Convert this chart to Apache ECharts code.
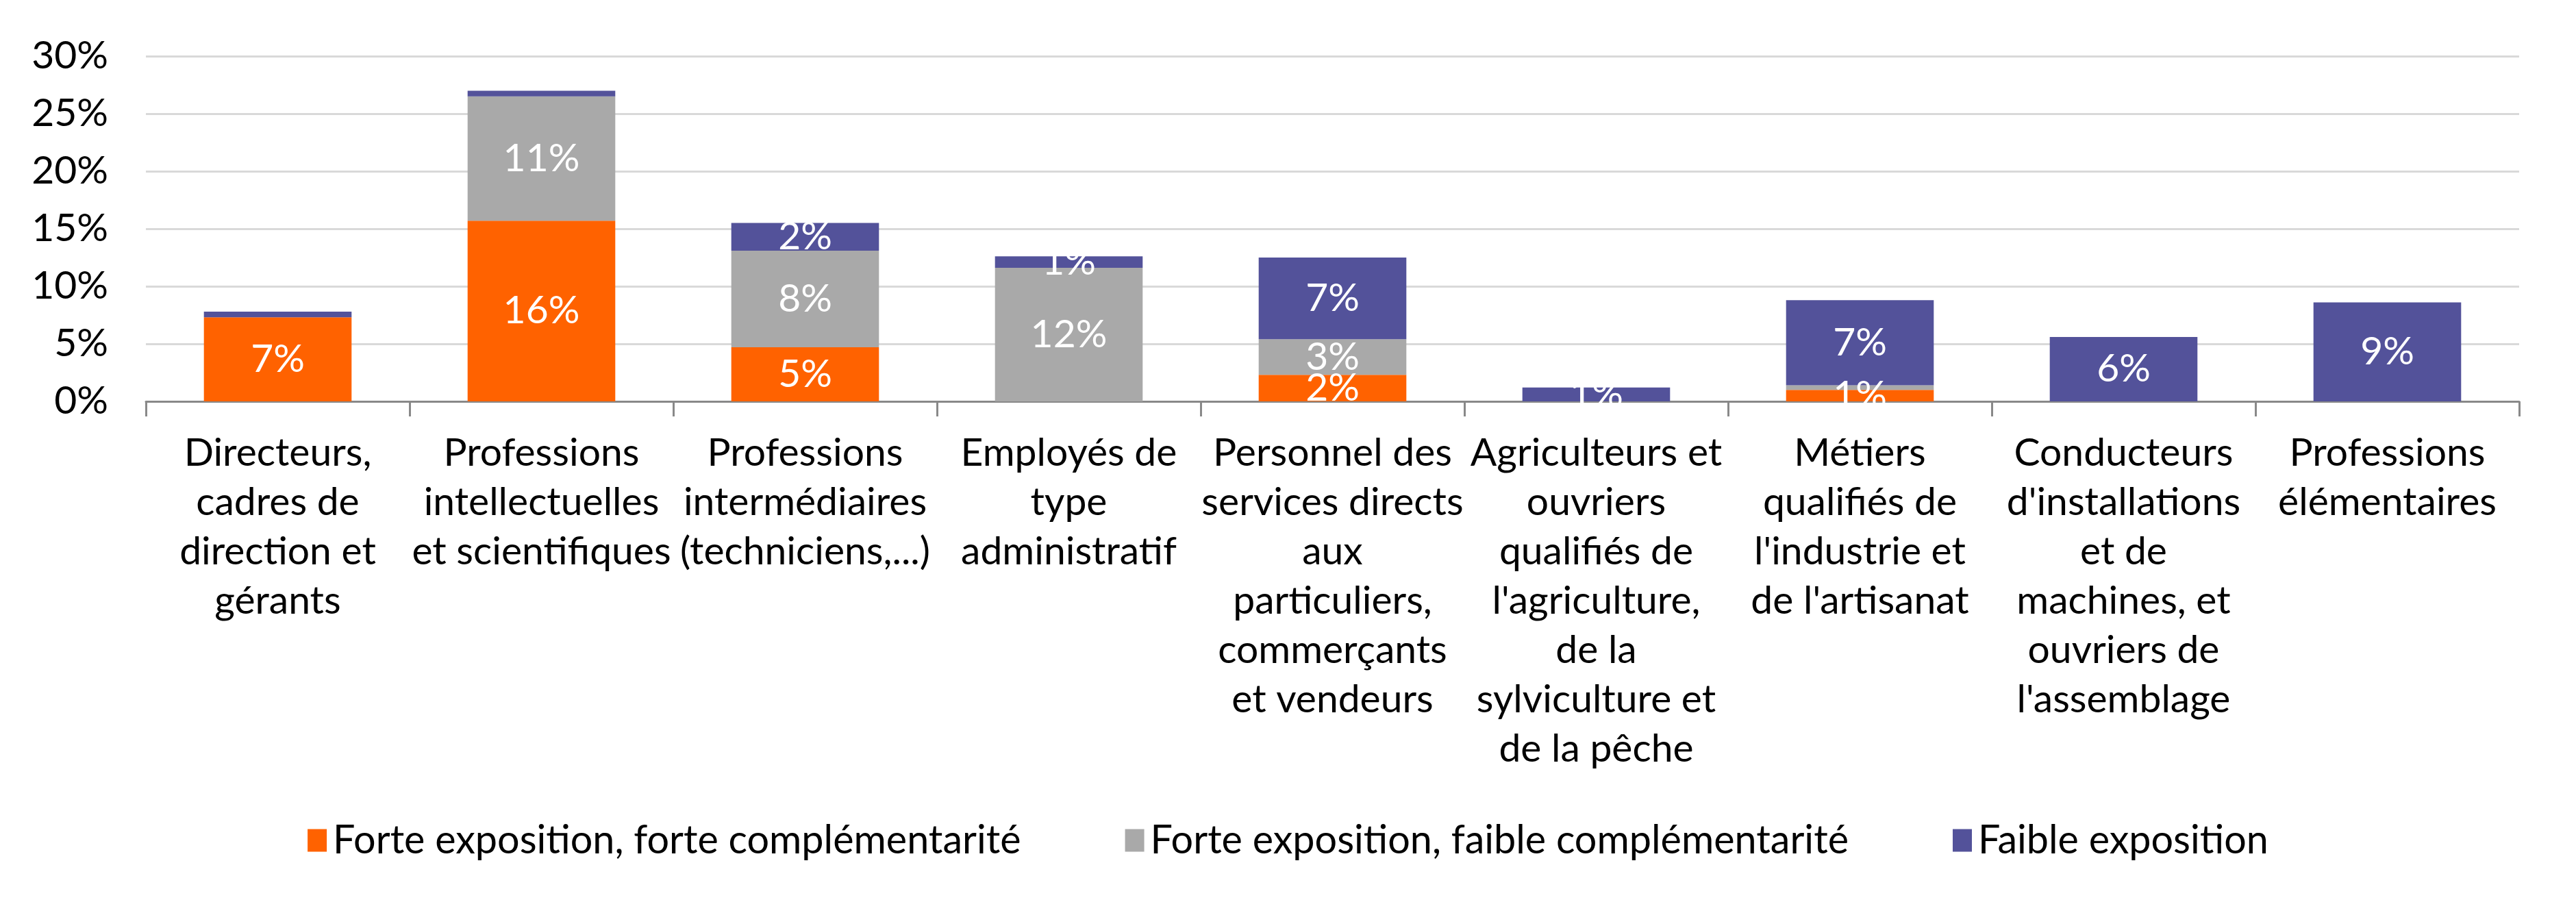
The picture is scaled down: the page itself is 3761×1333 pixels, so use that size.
<!DOCTYPE html>
<html>
<head>
<meta charset="utf-8">
<script src="https://cdn.jsdelivr.net/npm/echarts@6/dist/echarts.min.js"></script>
<style>
html,body{margin:0;padding:0;background:#fff;}
#chart{width:3761px;height:1333px;}
</style>
</head>
<body>
<div id="chart"></div>
<script>
const categories = [
  "Directeurs,\ncadres de\ndirection et\ngérants",
  "Professions\nintellectuelles\net scientifiques",
  "Professions\nintermédiaires\n(techniciens,...)",
  "Employés de\ntype\nadministratif",
  "Personnel des\nservices directs\naux\nparticuliers,\ncommerçants\net vendeurs",
  "Agriculteurs et\nouvriers\nqualifiés de\nl'agriculture,\nde la\nsylviculture et\nde la pêche",
  "Métiers\nqualifiés de\nl'industrie et\nde l'artisanat",
  "Conducteurs\nd'installations\net de\nmachines, et\nouvriers de\nl'assemblage",
  "Professions\nélémentaires"
];
const seriesNames = [
  "Forte exposition, forte complémentarité",
  "Forte exposition, faible complémentarité",
  "Faible exposition"
];
const forteForte = [7.3, 15.7, 4.7, 0, 2.3, 0, 1.0, 0, 0];
const forteFaible = [0, 10.8, 8.4, 11.6, 3.1, 0, 0.4, 0, 0];
const faible = [0.5, 0.5, 2.4, 1.0, 7.1, 1.2, 7.4, 5.6, 8.6];
const yTicks = [0, 5, 10, 15, 20, 25, 30];

const FONT = 'Lato';
const colors = ['#FF6200', '#A9A9A9', '#53529A'];
const dataSets = [forteForte, forteFaible, faible];

const chart = echarts.init(document.getElementById('chart'));
chart.setOption({
  animation: false,
  color: colors,
  textStyle: {fontFamily: FONT},
  grid: {left: 213, right: 83, top: 82, bottom: 747, containLabel: false},
  legend: {
    bottom: 72,
    left: 'center',
    itemWidth: 28,
    itemHeight: 33,
    itemGap: 152,
    icon: 'rect',
    textStyle: {fontFamily: FONT, fontSize: 57.5, color: '#000', padding: [0,0,0,4]},
    data: seriesNames
  },
  xAxis: {
    type: 'category',
    data: categories,
    axisLine: {lineStyle: {color: '#898989', width: 3}},
    axisTick: {show: true, length: 22, lineStyle: {color: '#898989', width: 3}},
    axisLabel: {
      interval: 0,
      fontFamily: FONT,
      fontSize: 57,
      lineHeight: 72,
      color: '#000',
      margin: 40,
      align: 'center'
    }
  },
  yAxis: {
    type: 'value',
    min: 0,
    max: yTicks[yTicks.length - 1],
    interval: yTicks[1] - yTicks[0],
    axisLine: {show: false},
    axisTick: {show: false},
    splitLine: {lineStyle: {color: '#D9D9D9', width: 3}},
    axisLabel: {
      formatter: '{value}%',
      fontFamily: FONT,
      fontSize: 57,
      color: '#000',
      margin: 55
    }
  },
  series: seriesNames.map((name, i) => ({
    name: name,
    type: 'bar',
    stack: 'total',
    barCategoryGap: '44%',
    data: dataSets[i],
    itemStyle: {color: colors[i]},
    label: {
      show: true,
      position: 'inside',
      color: '#fff',
      fontFamily: FONT,
      fontSize: 57,
      formatter: p => (p.value >= 0.8 ? Math.round(p.value) + '%' : '')
    }
  }))
});
</script>
</body>
</html>
